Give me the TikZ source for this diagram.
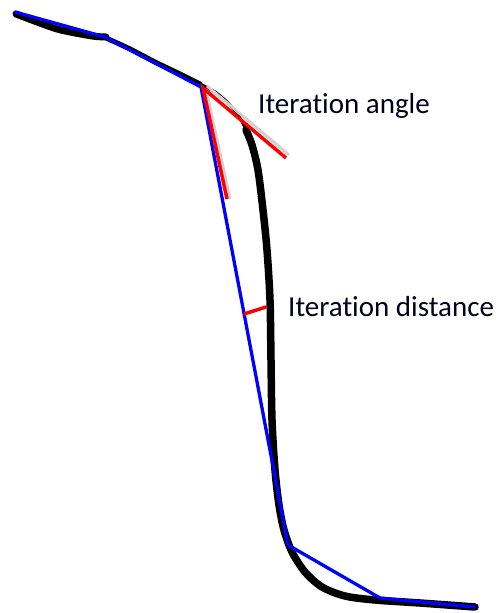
\documentclass[tikz,border=0pt]{standalone}
\usepackage{fontspec}
\setmainfont[Ligatures=NoCommon]{Carlito}
\begin{document}
\begin{tikzpicture}[x=1pt,y=-1pt,
  curveblack/.style={draw=black,line cap=round,line join=round},
  bluepath/.style={draw=blue,line width=3.3pt,line join=round,line cap=round},
  redline/.style={draw=red,line width=3.5pt},
  shadow/.style={draw=black!18,line width=3pt},
  lbl/.style={anchor=base west,inner sep=0pt,text=black!88!blue,font=\fontsize{29}{35}\selectfont}]
\useasboundingbox (0,0) rectangle (501,613);
% black thick curve
\draw[curveblack,line width=7pt] plot[smooth,tension=0.4] coordinates {(16,14) (57,29) (92,36) (106,37)};
\draw[curveblack,line width=5pt] plot[smooth,tension=0.4] coordinates {(104,37) (130,49) (155,62) (180,74) (200,84)};
\draw[curveblack,line width=3pt] plot[smooth,tension=0.5] coordinates {(200,84) (215,92) (228,103) (240,118) (248,134)};
\draw[curveblack,line width=7.5pt] plot[smooth,tension=0.5] coordinates {(246,130) (252,145) (258,170) (263,210) (267,250) (270,300) (271,360) (272,420) (275,470) (279,505) (284,530) (292,552) (305,572) (322,587) (345,596) (375,600) (420,603) (475,607)};
% gray shadows of tangent lines
\draw[shadow] (206,89) -- (230,199);
\draw[shadow] (207,86) -- (289,155);
% blue polyline
\coordinate (b1) at (15,12);
\coordinate (b2) at (105,37);
\coordinate (b3) at (201,87);
\coordinate (b4) at (288,545);
\coordinate (b5) at (380,598);
\coordinate (b6) at (475,607);
\draw[bluepath] (b1) -- (b2) -- (b3) -- (b4) -- (b5) -- (b6);
% red lines
\coordinate (r0) at (203,88);
\coordinate (r1) at (227,199);
\coordinate (r2) at (286,158);
\coordinate (d1) at (244,314);
\coordinate (d2) at (266,307);
\draw[redline] (r1) -- (r0) -- (r2);
\draw[redline] (d1) -- (d2);
% labels
\node[lbl] (angle) at (258,113) {Iteration angle};
\node[lbl] (dist) at (288,316) {Iteration distance};
\end{tikzpicture}
\end{document}
